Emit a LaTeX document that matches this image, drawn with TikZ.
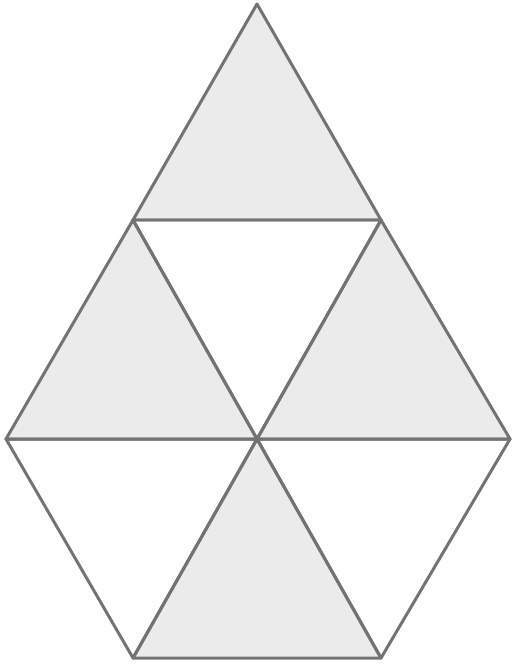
\documentclass[tikz,border=0pt]{standalone}
\usepackage{tikz}

\begin{document}
\begin{tikzpicture}[x=0.02cm,y=-0.02cm,
    edge/.style={draw=black!55,line width=1.7pt,line join=round},
    shaded/.style={edge,fill=black!8}]
    \useasboundingbox (0,0) rectangle (516,670);
    % lattice points
    \coordinate (apex) at (257,4);
    \coordinate (ml) at (133,220);
    \coordinate (mr) at (381,220);
    \coordinate (wl) at (6,439);
    \coordinate (cc) at (257,439);
    \coordinate (wr) at (510,439);
    \coordinate (bl) at (133,658);
    \coordinate (br) at (381,658);
    % shaded triangles
    \path[shaded] (apex) -- (ml) -- (mr) -- cycle;
    \path[shaded] (ml) -- (wl) -- (cc) -- cycle;
    \path[shaded] (mr) -- (cc) -- (wr) -- cycle;
    \path[shaded] (cc) -- (bl) -- (br) -- cycle;
    % white triangles
    \path[edge] (ml) -- (mr) -- (cc) -- cycle;
    \path[edge] (wl) -- (cc) -- (bl) -- cycle;
    \path[edge] (cc) -- (wr) -- (br) -- cycle;
\end{tikzpicture}
\end{document}
